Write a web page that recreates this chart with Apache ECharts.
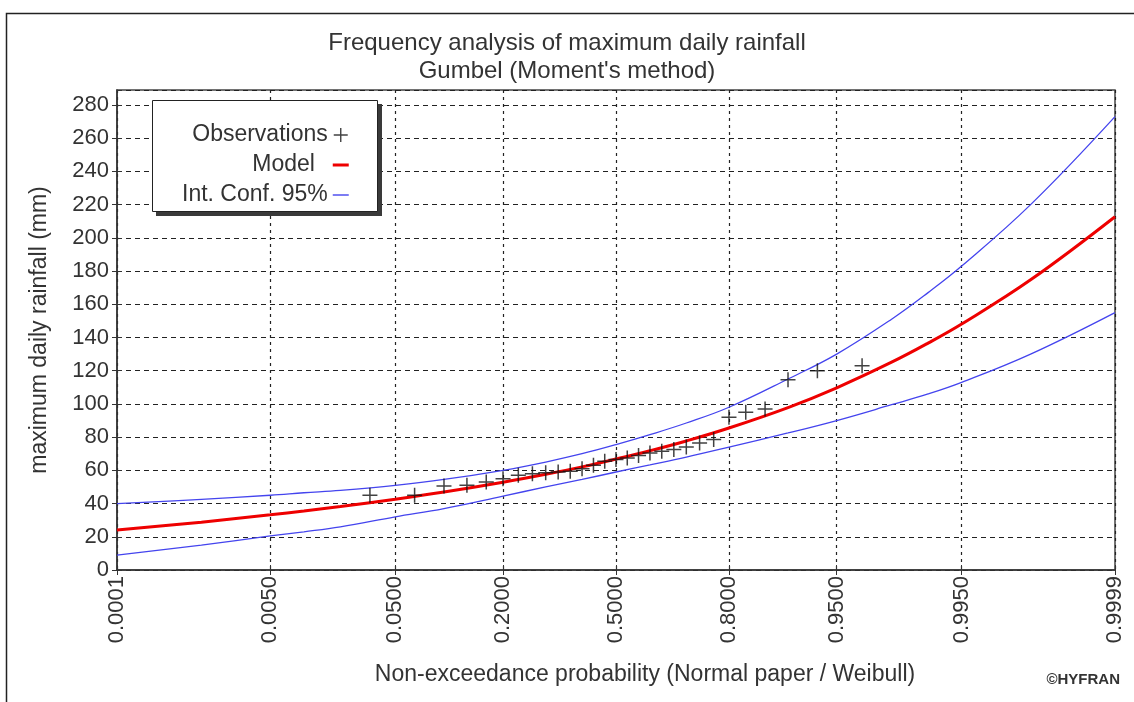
<!DOCTYPE html>
<html><head><meta charset="utf-8">
<script src="https://cdn.jsdelivr.net/npm/echarts@6/dist/echarts.min.js"></script>
<style>html,body{margin:0;padding:0;background:#fff}#c{width:1134px;height:702px}</style>
</head><body><div id="c"></div>
<script>
// x axis is the standard normal variate (normal probability paper)
const tickProb = ['0.0001','0.0050','0.0500','0.2000','0.5000','0.8000','0.9500','0.9950','0.9999'];
const tickZ = [-3.719,-2.576,-1.645,-0.842,0,0.842,1.645,2.576,3.719];

// curve points (normal variate of non-exceedance probability)
const curveZ = [-3.719,-3.090,-2.576,-2.326,-2.054,-1.645,-1.282,-0.842,-0.524,-0.253,0,0.253,0.524,0.842,1.282,1.645,2.054,2.326,2.576,3.090,3.719];
const model  = [24.1,28.8,33.2,35.5,38.2,42.6,46.9,52.8,57.6,62.1,66.8,71.8,77.7,85.5,97.8,109.7,125.1,136.6,148.1,174.7,212.7];
const upper  = [40,42.5,45,46.5,48,51,54.5,60,65,70,75.5,81.5,88.5,98,115,130,151,167,183,220,273];
const lower  = [9,15,20.5,23,26,32,37,44.5,50,54.5,59,63.3,68,74,82.5,90,99.5,106,113,130,155];

// observations (Weibull plotting positions, normal variate)
const obsZ = [-1.834,-1.501,-1.282,-1.111,-0.967,-0.842,-0.728,-0.623,-0.524,-0.431,-0.341,-0.253,-0.168,-0.084,0,0.084,0.168,0.253,0.341,0.431,0.524,0.623,0.728,0.842,0.967,1.111,1.282,1.501,1.834];
const obsVal = [45,45,50.5,51,53,55,57,58,58.5,59,59.5,61,63,65.5,66.5,67.5,69,70.5,71.5,72.5,74,76.5,78.5,92,95,97,114.5,120,123];

const FONT = 'Liberation Sans, Arial, sans-serif';
const zip = (a,b) => a.map((v,i)=>[v,b[i]]);
const plusPath = 'path://M7.3,0H8.7V6.3H15V7.7H8.7V14H7.3V7.7H1V6.3H7.3Z';
const redPath = 'path://M0,0M0,5.5H16V8.5H0ZM16,14';
const bluePath = 'path://M0,0M0,6.3H16V7.7H0ZM16,14';

const chart = echarts.init(document.getElementById('c'), null, {renderer:'canvas'});
chart.setOption({
  animation:false,
  backgroundColor:'#fff',
  textStyle:{fontFamily:FONT},
  title:{
    text:'Frequency analysis of maximum daily rainfall',
    subtext:"Gumbel (Moment's method)",
    left:'center', top:24, itemGap:0,
    textStyle:{fontSize:24, fontWeight:'normal', color:'#333', fontFamily:FONT, lineHeight:28},
    subtextStyle:{fontSize:24, color:'#333', fontFamily:FONT, lineHeight:28}
  },
  graphic:[
    {type:'rect', left:4, top:11, shape:{x:0,y:0,width:1400,height:1000}, style:{fill:'none', stroke:'#222', lineWidth:1.5}, silent:true, z:-1},
    {type:'text', right:14, top:672, style:{text:'©HYFRAN', font:'bold 15px '+FONT, fill:'#333'}},
    {type:'rect', shape:{x:156,y:104,width:226,height:112}, style:{fill:'#3a3a3a'}, z:20, silent:true},
    {type:'rect', shape:{x:152.5,y:100.5,width:225,height:111}, style:{fill:'#fff', stroke:'#222', lineWidth:1}, z:21, silent:true}
  ],
  grid:{left:117, right:19, top:90, bottom:132, show:true, borderColor:'#444', borderWidth:1.5, backgroundColor:'transparent'},
  legend:{
    orient:'vertical', left:152, top:103, align:'right', z:30,
    itemWidth:16, itemHeight:14, itemGap:6,
    padding:[20,26,8,30],
    backgroundColor:'transparent', borderWidth:0,
    textStyle:{fontSize:23, color:'#333', fontFamily:FONT, lineHeight:24},
    formatter: n => n==='Model' ? 'Model  ' : n,
    data:[{name:'Observations', icon:plusPath},{name:'Model', icon:redPath},{name:'Int. Conf. 95%', icon:bluePath}]
  },
  xAxis:[{
    type:'value', min:tickZ[0], max:tickZ[tickZ.length-1],
    name:'Non-exceedance probability (Normal paper / Weibull)', nameLocation:'middle', nameGap:93,
    nameTextStyle:{fontSize:23, color:'#333', fontFamily:FONT, padding:[0,0,0,58]},
    axisLine:{show:true, onZero:false, lineStyle:{color:'#333', width:1.5}},
    axisTick:{show:true, length:5, customValues:tickZ, lineStyle:{color:'#333'}},
    axisLabel:{customValues:tickZ, rotate:90, margin:6, fontSize:22, color:'#333', fontFamily:FONT,
      formatter: v => { const i = tickZ.findIndex(t=>Math.abs(t-v)<1e-6); return i>=0 ? tickProb[i] : ''; }},
    splitLine:{show:true, lineStyle:{color:'#222', type:[3,4], width:1.2}}
  },{
    type:'value', min:tickZ[0], max:tickZ[tickZ.length-1], position:'bottom',
    axisLine:{show:false, onZero:false}, axisTick:{show:true, inside:true, length:5, customValues:tickZ, lineStyle:{color:'#333'}},
    axisLabel:{show:false}, splitLine:{show:false}
  }],
  yAxis:[{
    type:'value', min:0, max:289, interval:20,
    name:'maximum daily rainfall (mm)', nameLocation:'middle', nameGap:66,
    nameTextStyle:{fontSize:23, color:'#333', fontFamily:FONT},
    axisLine:{show:true, onZero:false, lineStyle:{color:'#333', width:1.5}},
    axisTick:{show:true, length:5, lineStyle:{color:'#333'}},
    axisLabel:{showMaxLabel:false, margin:8, fontSize:22, color:'#333', fontFamily:FONT},
    splitLine:{show:true, lineStyle:{color:'#222', type:[5,4], width:1}}
  },{
    type:'value', min:0, max:289, interval:20, position:'left', offset:0,
    axisLine:{show:false, onZero:false}, axisTick:{show:true, inside:true, length:5, lineStyle:{color:'#333'}},
    axisLabel:{show:false}, splitLine:{show:false}
  }],
  series:[
    {name:'Int. Conf. 95%', type:'line', data:zip(curveZ, upper), smooth:0.4, showSymbol:false, color:'#4444ee', lineStyle:{width:1.3, color:'#4444ee'}, z:3},
    {name:'Int. Conf. 95%', type:'line', data:zip(curveZ, lower), smooth:0.4, showSymbol:false, color:'#4444ee', lineStyle:{width:1.3, color:'#4444ee'}, z:3},
    {name:'Model', type:'line', data:zip(curveZ, model), smooth:0.4, showSymbol:false, color:'#ee0000', lineStyle:{width:3, color:'#ee0000'}, z:4},
    {name:'Observations', type:'scatter', data:zip(obsZ, obsVal), symbol:plusPath, symbolSize:15, color:'#111', itemStyle:{color:'#111'}, z:5}
  ]
});
</script></body></html>
